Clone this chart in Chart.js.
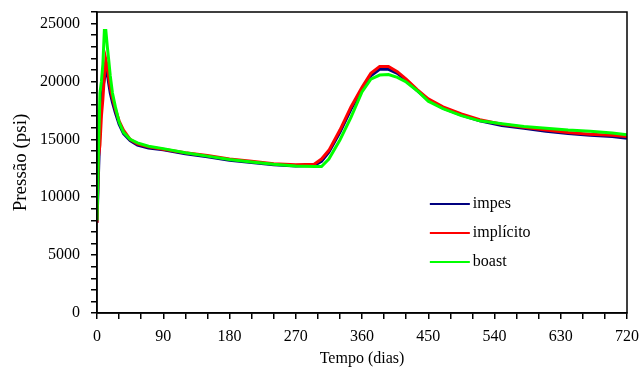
<!DOCTYPE html>
<html>
<head>
<meta charset="utf-8">
<script src="https://cdn.jsdelivr.net/npm/chart.js@4.4.1/dist/chart.umd.min.js"></script>
<style>
  html, body { margin: 0; padding: 0; background: #fff; }
  #wrap { width: 642px; height: 371px; }
</style>
</head>
<body>
<div id="wrap"><canvas id="chart" width="642" height="371"></canvas></div>
<script>
// time in days, shared by the three runs
const days = [0, 2, 4, 6, 8, 10, 12, 14, 16, 18, 21, 25, 30, 36, 45, 55, 70, 90, 120, 150, 180, 210, 240, 270, 295, 305, 315, 330, 345, 360, 372, 384, 396, 408, 420, 435, 450, 470, 495, 520, 550, 580, 610, 640, 670, 700, 720];

// pressure (psi) for each method
const impes = [7800, 12000, 16000, 18000, 19500, 20200, 21000, 20700, 19800, 19000, 18200, 17300, 16300, 15500, 14900, 14500, 14250, 14100, 13750, 13500, 13200, 13000, 12800, 12700, 12750, 13100, 13900, 15600, 17600, 19300, 20500, 21050, 21050, 20700, 20100, 19200, 18400, 17700, 17100, 16600, 16200, 15950, 15700, 15500, 15350, 15250, 15100];
const implicito = [7800, 13500, 14500, 17000, 18500, 20500, 21900, 21300, 20300, 19500, 18600, 17600, 16600, 15800, 15000, 14600, 14350, 14150, 13850, 13600, 13300, 13100, 12900, 12800, 12850, 13300, 14050, 15800, 17800, 19500, 20700, 21300, 21300, 20850, 20200, 19300, 18500, 17800, 17200, 16700, 16300, 16050, 15800, 15600, 15450, 15350, 15250];
const boast = [8000, 14000, 19000, 20000, 21500, 24400, 24400, 23000, 21800, 20500, 19000, 17800, 16500, 15600, 15000, 14700, 14400, 14200, 13850, 13550, 13250, 13050, 12850, 12700, 12650, 12650, 13300, 14950, 16900, 19100, 20200, 20550, 20600, 20350, 19950, 19200, 18300, 17650, 17050, 16600, 16350, 16100, 15950, 15800, 15700, 15550, 15400];

const seriesNames = ['impes', 'implícito', 'boast'];
const seriesColors = ['#00007f', '#ff0000', '#00ff00'];

const FONT = '"Liberation Serif", "Times New Roman", serif';

const pts = vals => days.map((d, i) => ({ x: d, y: vals[i] }));

// box around the plot + legend inside it
const boxAndLegend = {
    id: 'boxAndLegend',
    afterDraw(chart) {
        const { ctx, chartArea: a } = chart;
        ctx.save();
        ctx.strokeStyle = '#000';
        ctx.lineWidth = 1.5;
        ctx.strokeRect(a.left, a.top, a.right - a.left, a.bottom - a.top);

        ctx.font = '16px ' + FONT;
        ctx.textAlign = 'left';
        ctx.textBaseline = 'middle';
        const x0 = a.left + (a.right - a.left) * 0.628;
        chart.data.datasets.forEach((ds, i) => {
            const y = a.top + 192 + i * 29;
            ctx.strokeStyle = ds.borderColor;
            ctx.lineWidth = 2;
            ctx.beginPath();
            ctx.moveTo(x0, y);
            ctx.lineTo(x0 + 40, y);
            ctx.stroke();
            ctx.fillStyle = '#000';
            ctx.fillText(ds.label, x0 + 43, y);
        });
        ctx.restore();
    }
};

new Chart(document.getElementById('chart'), {
    type: 'line',
    data: {
        datasets: [
            { label: seriesNames[0], data: pts(impes), borderColor: seriesColors[0], order: 3 },
            { label: seriesNames[1], data: pts(implicito), borderColor: seriesColors[1], order: 2 },
            { label: seriesNames[2], data: pts(boast), borderColor: seriesColors[2], order: 1 }
        ]
    },
    options: {
        responsive: false,
        animation: false,
        layout: { padding: { left: 0, top: 12, right: 15, bottom: 0 } },
        elements: {
            point: { radius: 0 },
            line: { borderWidth: 3, tension: 0 }
        },
        plugins: {
            legend: { display: false },
            tooltip: { enabled: false }
        },
        scales: {
            x: {
                type: 'linear',
                min: 0,
                max: 720,
                afterFit: s => { s.height = 58; s.paddingLeft = 0; s.paddingRight = 0; },
                ticks: {
                    stepSize: 30,
                    autoSkip: false,
                    maxRotation: 0,
                    padding: 8,
                    color: '#000',
                    font: { family: FONT, size: 16 },
                    callback: v => (v % 90 === 0 ? String(v) : '')
                },
                grid: { drawOnChartArea: false, tickLength: 6, color: '#000', lineWidth: 1.5 },
                border: { color: '#000', width: 1.5 },
                title: {
                    display: true,
                    text: 'Tempo (dias)',
                    color: '#000',
                    font: { family: FONT, size: 16 },
                    padding: { top: 0, bottom: 3 }
                }
            },
            y: {
                min: 0,
                max: 26000,
                afterFit: s => { s.width = 97; s.paddingTop = 0; s.paddingBottom = 0; },
                ticks: {
                    stepSize: 1000,
                    autoSkip: false,
                    padding: 11,
                    color: '#000',
                    font: { family: FONT, size: 16 },
                    callback: v => (v % 5000 === 0 ? String(v) : '')
                },
                grid: { drawOnChartArea: false, tickLength: 6, color: '#000', lineWidth: 1.5 },
                border: { color: '#000', width: 1.5 },
                title: {
                    display: true,
                    text: 'Pressão (psi)',
                    color: '#000',
                    font: { family: FONT, size: 19 },
                    padding: { top: 10, bottom: 0 }
                }
            }
        }
    },
    plugins: [boxAndLegend]
});
</script>
</body>
</html>
